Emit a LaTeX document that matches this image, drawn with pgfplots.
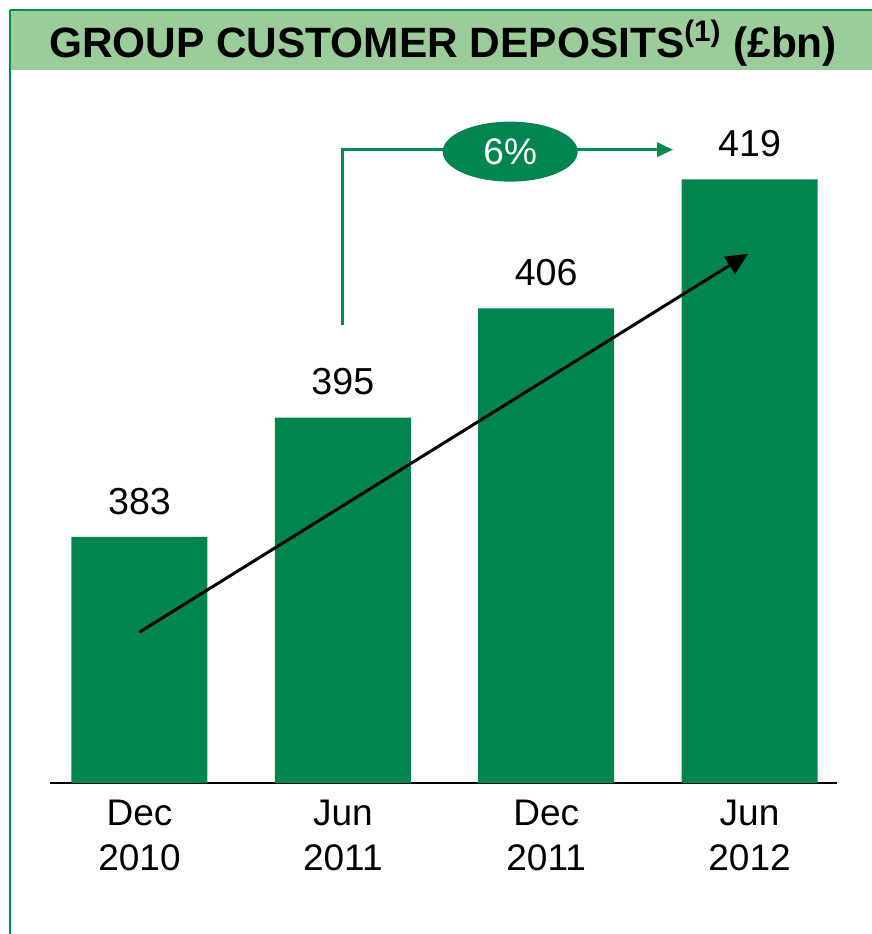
\documentclass[border=0pt]{standalone}
\usepackage{pgfplots}
\pgfplotsset{compat=1.18}
\usepackage{fontspec}
\setmainfont{Liberation Sans}
\usetikzlibrary{arrows.meta,shapes.geometric}
\definecolor{barGreen}{RGB}{0,133,80}
\definecolor{titleGreen}{RGB}{155,205,155}
\definecolor{lineGreen}{RGB}{0,140,80}
\begin{document}
\begin{tikzpicture}
\useasboundingbox (0,0) rectangle (436pt,-467pt);
% title bar
\fill[titleGreen] (5pt,-5pt) rectangle (436pt,-35pt);
\draw[lineGreen, line width=1pt] (5pt,-5pt) -- (436pt,-5pt);
\draw[lineGreen, line width=0.8pt] (5pt,-5pt) -- (5pt,-467pt);
\node[anchor=base, inner sep=0pt, font=\fontsize{21.2pt}{25pt}\selectfont\bfseries] at (221.5pt,-28.5pt) {GROUP CUSTOMER DEPOSITS\textsuperscript{(1)} (£bn)};
\begin{axis}[
  at={(25pt,-391.5pt)}, anchor=south west,
  width=393.5pt, height=341.5pt, scale only axis,
  xmin=-0.44, xmax=3.43, ymin=358.2, ymax=427,
  axis x line=bottom, axis y line=none,
  x axis line style={-, line width=1pt, black},
  xtick={0,1,2,3},
  xticklabels={{Dec\\2010},{Jun\\2011},{Dec\\2011},{Jun\\2012}},
  xtick style={draw=none},
  xticklabel style={align=center, inner sep=0pt, yshift=-4pt, font=\fontsize{18.5pt}{22.5pt}\selectfont},
  ytick=\empty,
  ybar, bar width=68pt,
  /pgf/number format/assume math mode=true,
  nodes near coords,
  nodes near coords style={anchor=south, inner sep=0pt, yshift=11pt, font=\fontsize{18.8pt}{22pt}\selectfont, black},
]
\addplot[fill=barGreen, draw=none] coordinates {(0,383) (1,395) (2,406) (3,419)};
\draw[lineGreen, line width=1.5pt, -{Triangle[length=8pt,width=7pt]}] (axis cs:1,404.35) |- (axis cs:2.624,422.0);
\node[ellipse, fill=barGreen, minimum width=67.5pt, minimum height=30pt, inner sep=0pt, text=white, font=\fontsize{18.5pt}{22pt}\selectfont] at (axis cs:1.823,421.8) {6\%};
\draw[black, line width=1.5pt, -{Triangle[length=11pt,width=10pt]}] (axis cs:0,373.4) -- (axis cs:2.993,411.5);
\end{axis}
\end{tikzpicture}
\end{document}
